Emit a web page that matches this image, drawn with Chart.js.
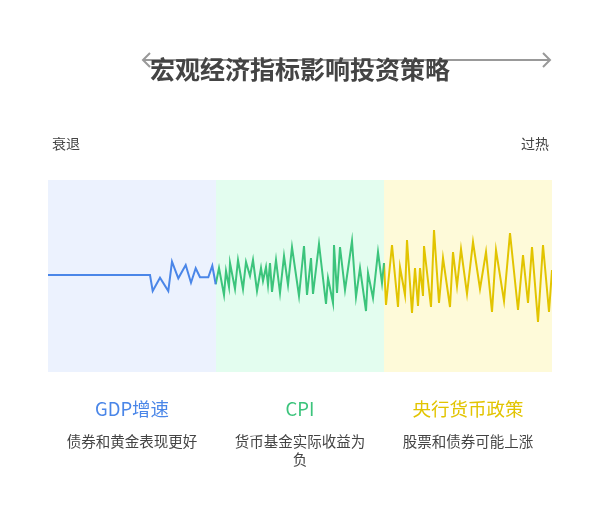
<!DOCTYPE html>
<html lang="zh">
<head>
<meta charset="UTF-8">
<script src="https://cdn.jsdelivr.net/npm/chart.js"></script>
<style>
  body { margin: 0; background: #fff; font-family: "Noto Sans CJK SC", "Noto Sans", sans-serif; }
  .wrap { position: relative; width: 600px; height: 528px; }
  canvas { position: absolute; left: 0; top: 0; }
  .t { position: absolute; color: #444; white-space: nowrap; }
  .title { left: 0; width: 600px; top: 50px; text-align: center; font-size: 25px; font-weight: bold; }
  .side { top: 133px; font-size: 14px; }
  .head { top: 395px; width: 168px; text-align: center; font-size: 18.5px; }
  .sub { top: 432px; width: 168px; text-align: center; font-size: 14.5px; white-space: normal; line-height: 18px; }
</style>
</head>
<body>
<div class="wrap">
  <canvas id="c" width="600" height="528"></canvas>
  <div class="t title">宏观经济指标影响投资策略</div>
  <div class="t side" style="left:52px">衰退</div>
  <div class="t side" style="right:51px">过热</div>
  <div class="t head" style="left:48px;color:#4a86e8">GDP增速</div>
  <div class="t head" style="left:216px;color:#3cc47c">CPI</div>
  <div class="t head" style="left:384px;color:#e2c400">央行货币政策</div>
  <div class="t sub" style="left:48px">债券和黄金表现更好</div>
  <div class="t sub" style="left:229px;width:142px">货币基金实际收益为负</div>
  <div class="t sub" style="left:384px">股票和债券可能上涨</div>
</div>
<script>
// x: position along the cycle (0..504), y: signal level
const gdpX = [0,102,104.7,112,120.3,124,130.3,137.7,143,147.7,152,160.3,164.3,167.7];
const gdpY = [1,1,-15,-1.7,-15,14.3,-2.3,11,-6.7,7.7,-1.3,-1.3,10.3,-8.3];
const cpiX = [167.7,171,176,178,181,182,187,190,195,198,202,205,209,213,215,218,220,222,224,228,232,236,240,244,251,256,259,263,265,271,278,280,285,286,289,292,297,304,308,312,318,320,325,330,334,336];
const cpiY = [-8.3,8,-19,5,-11,13,-13,16,-13,14,0,16,-15,8,-5,9,-9,13,-16,16,-17,20,-9,29,-20,30,-19,18,-18,32,-28,-2,-27,31,-17,29,-14,35,-21,8,-35,3,-22,24,-7,13];
const cbX = [336,338,344,350,352,357,359,364,367,370,372,375,376,383,386,391,395,402,405,409,413,419,425,432,438,444,448,456,462,470,475,480,484,490,495,501,504];
const cbY = [13,-29,31,-31,9,-19,36,-37,8,-30,8,-20,30,-31,46,-27,18,-31,24,-10,27,-18,34,-13,24,-36,26,-25,43,-34,21,-27,29,-46,31,-36,6];

const bands = [
  { from: 0, to: 168, color: '#ecf2fe' },
  { from: 168, to: 336, color: '#e3fdef' },
  { from: 336, to: 504, color: '#fefad9' }
];

const toPts = (xs, ys) => xs.map((x, i) => ({ x: x, y: ys[i] }));

const backdrop = {
  id: 'backdrop',
  beforeDatasetsDraw(chart) {
    const { ctx, chartArea: a, scales: { x } } = chart;
    ctx.save();
    bands.forEach(b => {
      ctx.fillStyle = b.color;
      ctx.fillRect(x.getPixelForValue(b.from), a.top, x.getPixelForValue(b.to) - x.getPixelForValue(b.from), a.bottom - a.top);
    });
    // arrow above
    ctx.strokeStyle = '#999';
    ctx.lineWidth = 2;
    ctx.beginPath();
    ctx.moveTo(143, 60); ctx.lineTo(550, 60);
    ctx.moveTo(150, 53); ctx.lineTo(143, 60); ctx.lineTo(150, 67);
    ctx.moveTo(543, 53); ctx.lineTo(550, 60); ctx.lineTo(543, 67);
    ctx.stroke();
    ctx.restore();
  }
};

const ds = (xs, ys, color) => ({
  data: toPts(xs, ys), borderColor: color, borderWidth: 2, showLine: true,
  pointRadius: 0, tension: 0, fill: false
});

new Chart(document.getElementById('c'), {
  type: 'scatter',
  data: { datasets: [ds(gdpX, gdpY, '#4a86e8'), ds(cpiX, cpiY, '#3cc47c'), ds(cbX, cbY, '#e2c400')] },
  options: {
    responsive: false, animation: false,
    layout: { padding: { left: 48, right: 48, top: 180, bottom: 156 } },
    scales: {
      x: { type: 'linear', min: 0, max: 504, display: false },
      y: { min: -96, max: 96, display: false }
    },
    plugins: { legend: { display: false }, tooltip: { enabled: false } }
  },
  plugins: [backdrop]
});
</script>
</body>
</html>
